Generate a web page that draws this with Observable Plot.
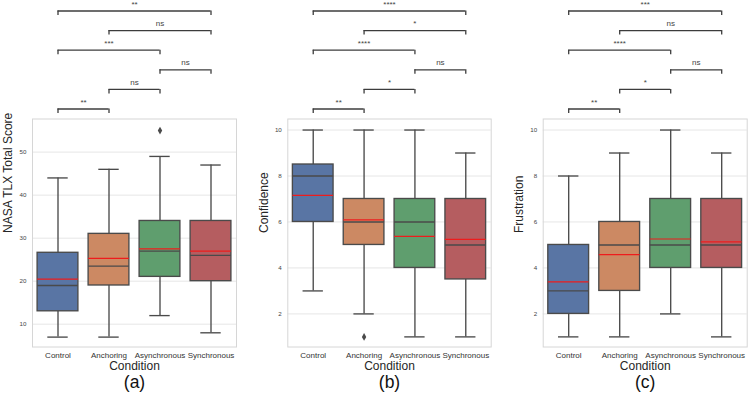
<!DOCTYPE html>
<html><head><meta charset="utf-8">
<script src="https://cdn.jsdelivr.net/npm/d3@7"></script>
<script src="https://cdn.jsdelivr.net/npm/@observablehq/plot@0.6"></script>
<style>
body{margin:0;background:#fff;}
#wrap{position:relative;width:749px;height:402px;overflow:hidden;background:#fff;}
#wrap svg{position:absolute;top:0;}
</style></head><body><div id="wrap"></div>
<script>
const categories = ["Control", "Anchoring", "Asynchronous", "Synchronous"];
const boxColors = ["#5975a4", "#cc8963", "#5f9e6e", "#b55d60"];
const comparisons = [[0, 1], [1, 2], [2, 3], [0, 2], [1, 3], [0, 3]];

// (a) NASA TLX Total Score
const tlxLow = [7, 7, 12, 8];
const tlxQ1 = [13, 19, 21, 20];
const tlxMedian = [19, 23.5, 27, 26];
const tlxMean = [20.5, 25.3, 27.5, 27];
const tlxQ3 = [26.6, 31, 34, 34];
const tlxHigh = [44, 46, 49, 47];
const tlxOutlierCat = [2];
const tlxOutlierVal = [55];
const tlxSig = ["**", "ns", "ns", "***", "ns", "**"];
const tlxTicks = [10, 20, 30, 40, 50];

// (b) Confidence
const confLow = [3, 2, 1, 1];
const confQ1 = [6, 5, 4, 3.5];
const confMedian = [8, 6, 6, 5];
const confMean = [7.16, 6.09, 5.37, 5.24];
const confQ3 = [8.5, 7, 7, 7];
const confHigh = [10, 10, 10, 9];
const confOutlierCat = [1];
const confOutlierVal = [1];
const confSig = ["**", "*", "ns", "****", "*", "****"];
const confTicks = [2, 4, 6, 8, 10];

// (c) Frustration
const frusLow = [1, 1, 2, 1];
const frusQ1 = [2, 3, 4, 4];
const frusMedian = [3, 5, 5, 5];
const frusMean = [3.39, 4.58, 5.26, 5.13];
const frusQ3 = [5, 6, 7, 7];
const frusHigh = [8, 9, 10, 9];
const frusOutlierCat = [];
const frusOutlierVal = [];
const frusSig = ["**", "*", "ns", "****", "ns", "***"];
const frusTicks = [2, 4, 6, 8, 10];

const H = 402, FRAME_TOP = 118.5, FRAME_BOTTOM = 346.5;
const EDGE = "#4a4a4a";
const FONT = "'Liberation Sans', Arial, Helvetica, sans-serif";

function panel(opts) {
  const {left, width, marginLeft, marginRight, domain, ticks, ylabel, tag,
         low, q1, median, mean, q3, high, outCat, outVal, sig} = opts;
  const rows = categories.map((c, i) => ({i, c, low: low[i], q1: q1[i], median: median[i],
    mean: mean[i], q3: q3[i], high: high[i], color: boxColors[i]}));
  const outliers = outCat.map((c, k) => ({i: c, v: outVal[k]}));
  // convert bracket pixel level into data units of this panel
  const inv = d3.scaleLinear().domain(domain).range([FRAME_BOTTOM, FRAME_TOP]);
  const brackets = comparisons.map(([a, b], k) => ({
    a, b, label: sig[k],
    y: inv.invert(108.5 - 19.6 * k),
    yd: inv.invert(108.5 - 19.6 * k + 4.5)
  }));
  const drops = brackets.flatMap(d => [{x: d.a, y1: d.y, y2: d.yd}, {x: d.b, y1: d.y, y2: d.yd}]);

  const svg = Plot.plot({
    width, height: H,
    marginTop: FRAME_TOP, marginBottom: H - FRAME_BOTTOM,
    marginLeft, marginRight,
    x: {domain: [-0.5, 3.5]},
    y: {domain},
    style: {fontFamily: FONT, background: "transparent", overflow: "visible"},
    marks: [
      Plot.gridY(ticks, {stroke: "#e6e6e6", strokeOpacity: 1, strokeWidth: 1}),
      Plot.frame({stroke: "#d6d6d6", strokeWidth: 1}),
      Plot.axisY(ticks, {tickSize: 0, tickPadding: 6, fontSize: 6.2, fill: "#444", label: null}),
      Plot.axisX([0, 1, 2, 3], {tickSize: 0, tickPadding: 5, fontSize: 8, fill: "#333",
        tickFormat: i => categories[i], label: null}),
      // whiskers
      Plot.ruleX(rows, {x: "i", y1: "low", y2: "q1", stroke: EDGE, strokeWidth: 1.35}),
      Plot.ruleX(rows, {x: "i", y1: "q3", y2: "high", stroke: EDGE, strokeWidth: 1.35}),
      Plot.ruleY(rows, {y: "low", x1: d => d.i - 0.2, x2: d => d.i + 0.2, stroke: EDGE, strokeWidth: 1.35}),
      Plot.ruleY(rows, {y: "high", x1: d => d.i - 0.2, x2: d => d.i + 0.2, stroke: EDGE, strokeWidth: 1.35}),
      // boxes
      Plot.rect(rows, {x1: d => d.i - 0.4, x2: d => d.i + 0.4, y1: "q1", y2: "q3",
        fill: "color", stroke: EDGE, strokeWidth: 1.35}),
      Plot.ruleY(rows, {y: "median", x1: d => d.i - 0.4, x2: d => d.i + 0.4, stroke: EDGE, strokeWidth: 1.35}),
      Plot.ruleY(rows, {y: "mean", x1: d => d.i - 0.4, x2: d => d.i + 0.4, stroke: "#ee1c1c", strokeWidth: 1.2}),
      Plot.dot(outliers, {x: "i", y: "v", symbol: "diamond", r: 2.3, fill: EDGE, stroke: "none"}),
      // significance brackets
      Plot.ruleY(brackets, {y: "y", x1: "a", x2: "b", stroke: "#3c3c3c", strokeWidth: 1.3}),
      Plot.ruleX(drops, {x: "x", y1: "y1", y2: "y2", stroke: "#3c3c3c", strokeWidth: 1.3}),
      Plot.text(brackets, {x: d => (d.a + d.b) / 2, y: "y", text: "label", dy: -7,
        fontSize: 8, fill: "#444"}),
      // axis titles
      Plot.text([ylabel], {frameAnchor: "left", rotate: -90, dx: -24, fontSize: 12, fill: "#262626"}),
      Plot.text(["Condition"], {frameAnchor: "bottom", dy: 23, fontSize: 12, fill: "#262626"}),
      Plot.text([tag], {frameAnchor: "bottom", dy: 41, fontSize: 17.5, fill: "#111"})
    ]
  });
  svg.style.left = left + "px";
  document.getElementById("wrap").appendChild(svg);
}

panel({left: 0, width: 250, marginLeft: 32, marginRight: 14, domain: [4.7, 57.7], ticks: tlxTicks,
  ylabel: "NASA TLX Total Score", tag: "(a)", low: tlxLow, q1: tlxQ1, median: tlxMedian, mean: tlxMean,
  q3: tlxQ3, high: tlxHigh, outCat: tlxOutlierCat, outVal: tlxOutlierVal, sig: tlxSig});
panel({left: 250, width: 250, marginLeft: 37.3, marginRight: 9.3, domain: [0.56, 10.48], ticks: confTicks,
  ylabel: "Confidence", tag: "(b)", low: confLow, q1: confQ1, median: confMedian, mean: confMean,
  q3: confQ3, high: confHigh, outCat: confOutlierCat, outVal: confOutlierVal, sig: confSig});
panel({left: 500, width: 249, marginLeft: 42.7, marginRight: 2.3, domain: [0.56, 10.48], ticks: frusTicks,
  ylabel: "Frustration", tag: "(c)", low: frusLow, q1: frusQ1, median: frusMedian, mean: frusMean,
  q3: frusQ3, high: frusHigh, outCat: frusOutlierCat, outVal: frusOutlierVal, sig: frusSig});
</script></body></html>
